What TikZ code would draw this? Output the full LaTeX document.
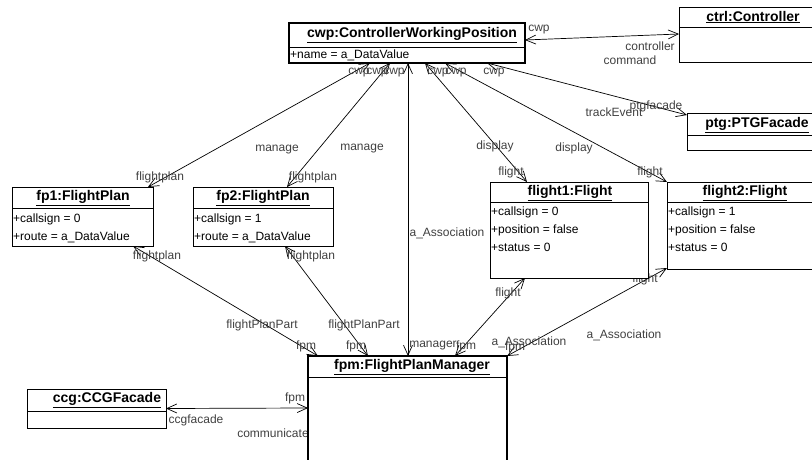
\documentclass[tikz,border=0pt]{standalone}
\usepackage{fontspec}
\setmainfont{Liberation Sans}
\usepackage{tikz}
\usetikzlibrary{arrows.meta}
\usetikzlibrary{backgrounds}

\begin{document}
\begin{tikzpicture}[x=1pt,y=-1pt,
  obj/.style={draw, fill=white, line width=0.8pt, anchor=north west, inner sep=0pt, outer sep=0pt},
  mainobj/.style={obj, line width=2.6pt},
  title/.style={font=\fontsize{14}{14}\selectfont\bfseries},
  attr/.style={font=\fontsize{12}{12}\selectfont, anchor=west, inner sep=1pt},
  role/.style={font=\fontsize{12}{12}\selectfont, text=black!75, inner sep=0pt},
  link/.style={line width=0.7pt, {Straight Barb[length=10pt,width=9pt]}-{Straight Barb[length=10pt,width=9pt]}}]
\useasboundingbox (0,0) rectangle (812,460);
\clip (0,0) rectangle (812,460);

\node[mainobj, minimum width=236pt, minimum height=40pt] (cwp) at (289,23) {};
\node[obj, minimum width=148pt, minimum height=55pt] (ctrl) at (679,7) {};
\node[obj, minimum width=140pt, minimum height=37pt] (ptg) at (687,113) {};
\node[obj, minimum width=141pt, minimum height=59pt] (fp1) at (12,187) {};
\node[obj, minimum width=140pt, minimum height=59pt] (fp2) at (193,187) {};
\node[obj, minimum width=158pt, minimum height=96pt] (flight1) at (490,182) {};
\node[obj, minimum width=160pt, minimum height=87pt] (flight2) at (667,182) {};
\node[mainobj, minimum width=199pt, minimum height=120pt] (fpm) at (308,356) {};
\node[obj, minimum width=139pt, minimum height=39pt] (ccg) at (27,389) {};

\draw[line width=0.8pt] ([yshift=-24pt]cwp.north west) -- ([yshift=-24pt]cwp.north east);
\draw[line width=0.8pt] ([yshift=-20pt]ctrl.north west) -- ([yshift=-20pt]ctrl.north east);
\draw[line width=0.8pt] ([yshift=-22pt]ptg.north west) -- ([yshift=-22pt]ptg.north east);
\draw[line width=0.8pt] ([yshift=-21pt]fp1.north west) -- ([yshift=-21pt]fp1.north east);
\draw[line width=0.8pt] ([yshift=-21pt]fp2.north west) -- ([yshift=-21pt]fp2.north east);
\draw[line width=0.8pt] ([yshift=-20pt]flight1.north west) -- ([yshift=-20pt]flight1.north east);
\draw[line width=0.8pt] ([yshift=-20pt]flight2.north west) -- ([yshift=-20pt]flight2.north east);
\draw[line width=0.8pt] ([yshift=-21pt]fpm.north west) -- ([yshift=-21pt]fpm.north east);
\draw[line width=0.8pt] ([yshift=-22pt]ccg.north west) -- ([yshift=-22pt]ccg.north east);

\node[title] (cwpname) at (412,35) {\underline{cwp:ControllerWorkingPosition}};
\node[title] (ctrlname) at (753,17) {\underline{ctrl:Controller}};
\node[title] (ptgname) at (757,125) {\underline{ptg:PTGFacade}};
\node[title] (fp1name) at (83,198) {\underline{fp1:FlightPlan}};
\node[title] (fp2name) at (263,198) {\underline{fp2:FlightPlan}};
\node[title] (flight1name) at (570,193) {\underline{flight1:Flight}};
\node[title] (flight2name) at (745,193) {\underline{flight2:Flight}};
\node[title] (fpmname) at (412,367) {\underline{fpm:FlightPlanManager}};
\node[title] (ccgname) at (107,400) {\underline{ccg:CCGFacade}};

\node[attr] (cwpa1) at (289,55) {+name = a\_DataValue};
\node[attr] (fp1a1) at (12,219) {+callsign = 0};
\node[attr] (fp1a2) at (12,237) {+route = a\_DataValue};
\node[attr] (fp2a1) at (193,219) {+callsign = 1};
\node[attr] (fp2a2) at (193,237) {+route = a\_DataValue};
\node[attr] (flight1a1) at (490,212) {+callsign = 0};
\node[attr] (flight1a2) at (490,230) {+position = false};
\node[attr] (flight1a3) at (490,247) {+status = 0};
\node[attr] (flight2a1) at (667,212) {+callsign = 1};
\node[attr] (flight2a2) at (667,230) {+position = false};
\node[attr] (flight2a3) at (667,247) {+status = 0};

\begin{scope}[on background layer]
\draw[link] ([yshift=-17pt]cwp.north east) -- ([yshift=-27pt]ctrl.north west);
\draw[link] ([xshift=-38pt]cwp.south east) -- ([yshift=-2pt]ptg.north west);
\draw[link] ([xshift=136pt]cwp.south west) -- ([xshift=37pt]flight1.north west);
\draw[link] ([xshift=156pt]cwp.south west) -- (flight2.north west);
\draw[link] ([xshift=81pt]cwp.south west) -- ([xshift=136pt]fp1.north west);
\draw[link] ([xshift=101pt]cwp.south west) -- ([xshift=94pt]fp2.north west);
\draw[link] ([xshift=119pt]cwp.south west) -- ([xshift=100pt]fpm.north west);
\draw[link] ([xshift=121pt]fp1.south west) -- ([xshift=10pt]fpm.north west);
\draw[link] ([xshift=92pt]fp2.south west) -- ([xshift=60pt]fpm.north west);
\draw[link] ([xshift=35pt]flight1.south west) -- ([xshift=147pt]fpm.north west);
\draw[link] ([yshift=1pt]flight2.south west) -- (fpm.north east);
\draw[link] (ccg.east) -- ([yshift=-52pt]fpm.north west);

\node[role] (r1) at (539,30) {cwp};
\node[role] (r2) at (650,46) {controller};
\node[role] (r3) at (630,60) {command};
\node[role] (r4) at (656,106) {ptgfacade};
\node[role] (r5) at (614,112) {trackEvent};
\node[role] (r6) at (359,73) {cwp};
\node[role] (r7) at (377,73) {cwp};
\node[role] (r8) at (394,73) {cwp};
\node[role] (r9) at (438,73) {cwp};
\node[role] (r10) at (456,73) {cwp};
\node[role] (r11) at (494,73) {cwp};
\node[role] (r12) at (277,150) {manage};
\node[role] (r13) at (362,149) {manage};
\node[role] (r14) at (495,146) {display};
\node[role] (r15) at (574,148) {display};
\node[role] (r16) at (511,172) {flight};
\node[role] (r17) at (650,172) {flight};
\node[role] (r18) at (160,177) {flightplan};
\node[role] (r19) at (313,177) {flightplan};
\node[role] (r20) at (447,233) {a\_Association};
\node[role] (r21) at (157,256) {flightplan};
\node[role] (r22) at (311,256) {flightplan};
\node[role] (r23) at (262,325) {flightPlanPart};
\node[role] (r24) at (364,325) {flightPlanPart};
\node[role] (r25) at (306,346) {fpm};
\node[role] (r26) at (356,346) {fpm};
\node[role] (r27) at (433,346) {manager};
\node[role] (r28) at (466,346) {fpm};
\node[role] (r29) at (508,293) {flight};
\node[role] (r30) at (645,279) {flight};
\node[role] (r31) at (529,342) {a\_Association};
\node[role] (r32) at (515,347) {fpm};
\node[role] (r33) at (624,335) {a\_Association};
\node[role] (r34) at (295,398) {fpm};
\node[role] (r35) at (196,420) {ccgfacade};
\node[role] (r36) at (273,433) {communicate};
\end{scope}
\end{tikzpicture}
\end{document}
